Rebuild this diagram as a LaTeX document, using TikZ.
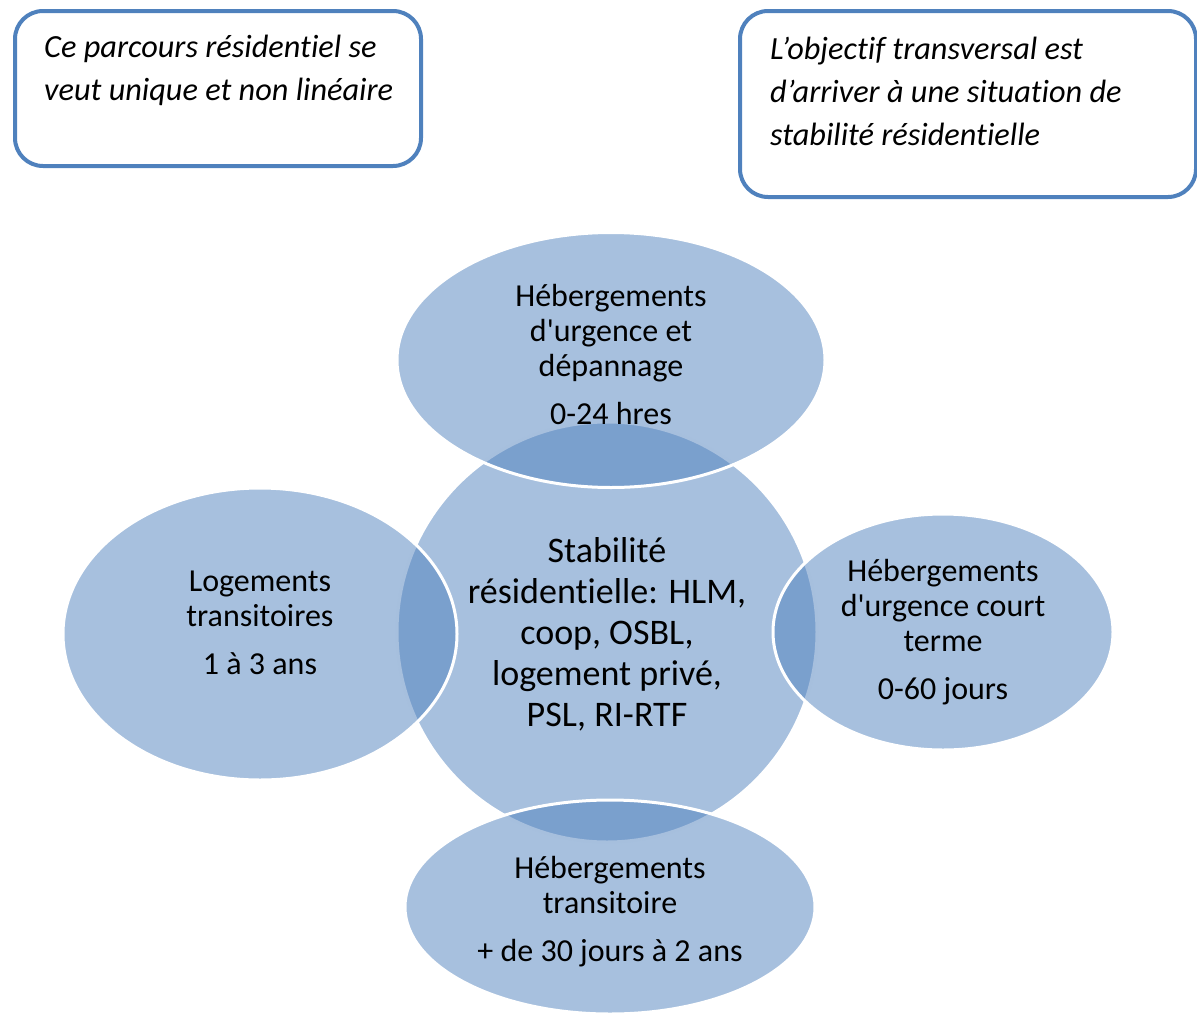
\documentclass[tikz,border=0pt]{standalone}
\usepackage{fontspec}
\setmainfont{Carlito}[RawFeature={-liga;-clig;-dlig}]
\usetikzlibrary{shapes.geometric}
\usetikzlibrary{positioning}
\definecolor{ringblue}{HTML}{4F81BD}
\tikzset{bubble/.style={ellipse,fill=ringblue,fill opacity=0.5,draw=white,line width=3pt,inner sep=0pt},
         bubbletext/.style={align=center,inner sep=0pt,font=\fontsize{32}{35}\selectfont},
         hub/.style={bubble,circle,minimum size=420pt},
         note/.style={draw=ringblue,line width=4pt,rounded corners=28pt,anchor=north west},
         notetext/.style={anchor=north west,align=left,inner sep=0pt,font=\fontsize{32.3}{43}\selectfont\itshape},
         }

\begin{document}
\begin{tikzpicture}[x=1pt,y=-1pt]
		\useasboundingbox (0,0) rectangle (1197,1015);
		% notes
		\node[note,minimum width=406pt,minimum height=155pt] (parcours) at (13,9) {};
		\node[notetext] (parcourstxt) at ([xshift=31pt,yshift=-26pt]parcours.north west)
		{Ce parcours résidentiel se\\veut unique et non linéaire};
		\node[note,minimum width=456pt,minimum height=186pt] (objectif) at (738,9) {};
		\node[notetext] (objectiftxt) at ([xshift=32pt,yshift=-28pt]objectif.north west)
		{L’objectif transversal est\\d’arriver à une situation de\\stabilité résidentielle};
		% centre
		\node[hub] (stable) at (607,632) {};
		\node[bubbletext,font=\fontsize{36}{41}\selectfont] (stabletxt) at ([yshift=-2pt]stable.center)
		{Stabilité\\résidentielle: HLM,\\coop, OSBL,\\logement privé,\\PSL, RI-RTF};
		% around
		\node[bubble,minimum width=428pt,minimum height=255pt] (urgence) at (611,360) {};
		\node[bubbletext] (urgencetxt) at ([yshift=5pt]urgence.center)
		{Hébergements\\d\textquotesingle urgence et\\dépannage\\[13pt]0-24 hres};
		\node[bubble,minimum width=394pt,minimum height=292pt] (logements) at (260,634) {};
		\node[bubbletext] (logementstxt) at ([yshift=11pt]logements.center)
		{Logements\\transitoires\\[13pt]1 à 3 ans};
		\node[bubble,minimum width=340pt,minimum height=236pt] (court) at (943,632) {};
		\node[bubbletext] (courttxt) at (court.center)
		{Hébergements\\d\textquotesingle urgence court\\terme\\[13pt]0-60 jours};
		\node[bubble,minimum width=410pt,minimum height=214pt] (transit) at (610,907) {};
		\node[bubbletext] (transittxt) at ([yshift=-5pt]transit.center)
		{Hébergements\\transitoire\\[13pt]+ de 30 jours à 2 ans};
\end{tikzpicture}
\end{document}
